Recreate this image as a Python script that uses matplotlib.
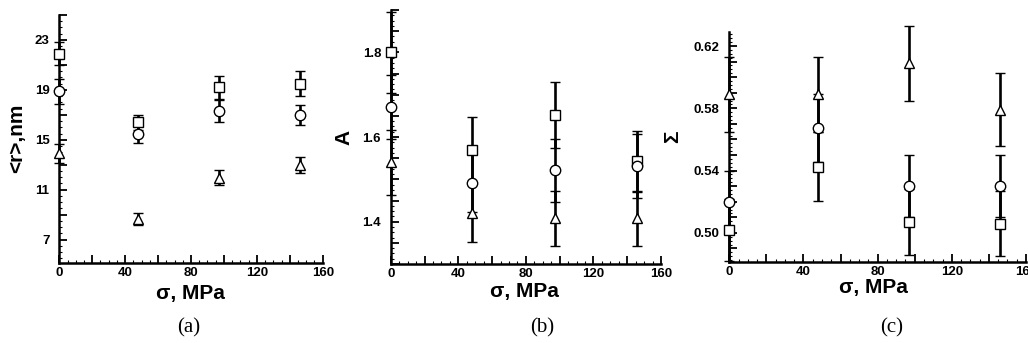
import matplotlib
matplotlib.use('Agg')
import matplotlib.pyplot as plt
from matplotlib.ticker import MultipleLocator, FuncFormatter

plt.rcParams['font.family'] = ['Liberation Sans', 'DejaVu Sans']
plt.rcParams['font.weight'] = 'bold'

stress = [0, 48, 97, 146]

# (a) mean radius, nm
r_sq = [21.9, 16.4, 19.2, 19.5]
r_sq_err = [0.9, 0.6, 0.9, 1.0]
r_ci = [18.9, 15.5, 17.3, 17.0]
r_ci_err = [1.0, 0.75, 0.9, 0.8]
r_tr = [13.9, 8.65, 11.95, 13.0]
r_tr_err = [0.8, 0.45, 0.6, 0.65]

# (b) A
a_sq = [1.80, 1.570, 1.651, 1.543]
a_sq_err = [0.095, 0.077, 0.078, 0.072]
a_ci = [1.671, 1.492, 1.521, 1.531]
a_ci_err = [0.075, 0.07, 0.075, 0.076]
a_tr = [1.540, 1.421, 1.408, 1.408]
a_tr_err = [0.076, 0.07, 0.065, 0.065]

# (c) Sigma
s_sq = [0.502, 0.5425, 0.507, 0.506]
s_sq_err = [0.02, 0.022, 0.021, 0.0206]
s_ci = [0.520, 0.5675, 0.530, 0.530]
s_ci_err = [0.02, 0.022, 0.02, 0.02]
s_tr = [0.589, 0.589, 0.609, 0.579]
s_tr_err = [0.024, 0.024, 0.024, 0.0235]

fig = plt.figure(figsize=(10.28, 3.43), dpi=100)


def draw(ax, vals, errs, marker, ms):
    c = ax.errorbar(stress, vals, yerr=errs, fmt=marker, mfc='white', mec='black',
                    ms=ms, mew=1.0, ecolor='black', elinewidth=1.9,
                    capsize=3.8, capthick=1.9, zorder=3)
    c.lines[0].set_clip_on(False)
    for a in c.lines[1]:
        a.set_clip_on(False)
    for a in c.lines[2]:
        a.set_clip_on(False)


def setup(ax, ylim, ystep, yoff, ylabel_fn):
    ax.set_xlim(0, 160)
    ax.set_ylim(*ylim)
    ax.spines['top'].set_visible(False)
    ax.spines['right'].set_visible(False)
    ax.spines['left'].set_linewidth(1.8)
    ax.spines['bottom'].set_linewidth(1.8)
    ax.xaxis.set_major_locator(MultipleLocator(20))
    ax.xaxis.set_minor_locator(MultipleLocator(5))
    ax.xaxis.set_major_formatter(FuncFormatter(
        lambda v, p: '%d' % round(v) if round(v) % 40 == 0 else ''))
    ax.yaxis.set_major_locator(MultipleLocator(ystep, offset=yoff))
    ax.yaxis.set_minor_locator(MultipleLocator(ystep / 4, offset=yoff))
    ax.yaxis.set_major_formatter(FuncFormatter(ylabel_fn))
    ax.tick_params(which='both', direction='in', top=False, right=False)
    ax.tick_params(which='major', length=6, width=1.3, labelsize=9.5)
    ax.tick_params(axis='x', which='major', pad=3)
    ax.tick_params(axis='y', which='major', pad=7)
    ax.tick_params(which='minor', length=2.2, width=0.8)


ax1 = fig.add_axes([0.0577, 0.2324, 0.2562, 0.7239])
setup(ax1, (5.1, 25), 2, 1,
      lambda v, p: '%d' % round(v) if round(v) % 4 == 3 else '')
draw(ax1, r_sq, r_sq_err, 's', 7)
draw(ax1, r_ci, r_ci_err, 'o', 7.5)
draw(ax1, r_tr, r_tr_err, '^', 7)

ax2 = fig.add_axes([0.3801, 0.2303, 0.2629, 0.7405])
setup(ax2, (1.3, 1.9), 0.05, 0,
      lambda v, p: '%.1f' % v if round(v * 100) % 20 == 0 else '')
draw(ax2, a_sq, a_sq_err, 's', 7)
draw(ax2, a_ci, a_ci_err, 'o', 7.5)
draw(ax2, a_tr, a_tr_err, '^', 7)

ax3 = fig.add_axes([0.7094, 0.2370, 0.2886, 0.6706])
setup(ax3, (0.4815, 0.6292), 0.01, 0,
      lambda v, p: '%.2f' % v if round(v * 100) % 4 == 2 else '')
draw(ax3, s_sq, s_sq_err, 's', 7)
draw(ax3, s_ci, s_ci_err, 'o', 7.5)
draw(ax3, s_tr, s_tr_err, '^', 7)

# axis titles
fig.text(17 / 1028, 1 - 138 / 343, '<r>,nm', rotation=90, ha='center', va='center', fontsize=15)
fig.text(344 / 1028, 1 - 137 / 343, 'A', rotation=90, ha='center', va='center', fontsize=15)
fig.text(673 / 1028, 1 - 137 / 343, 'Σ', rotation=90, ha='center', va='center', fontsize=15)

fig.text(190 / 1028, 1 - 294 / 343, 'σ, MPa', ha='center', va='center', fontsize=15)
fig.text(524 / 1028, 1 - 292 / 343, 'σ, MPa', ha='center', va='center', fontsize=15)
fig.text(873 / 1028, 1 - 288 / 343, 'σ, MPa', ha='center', va='center', fontsize=15)

for x, lab in [(189, '(a)'), (542, '(b)'), (892, '(c)')]:
    fig.text(x / 1028, 1 - 328 / 343, lab, ha='center', va='center', fontsize=15,
             family='Liberation Serif', fontweight='normal')

fig.savefig('out.png', dpi=100)
